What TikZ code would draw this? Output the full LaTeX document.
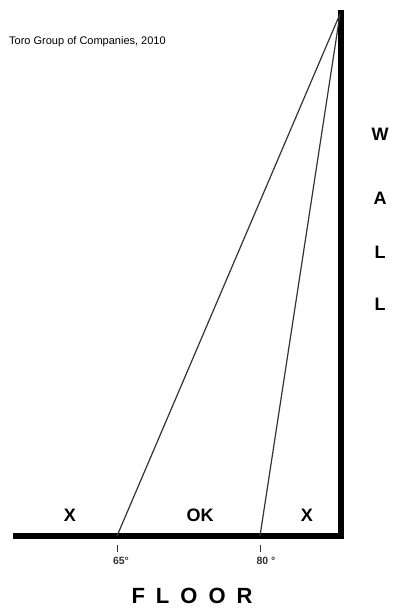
\documentclass[tikz,border=0pt]{standalone}
\usepackage{fontspec}
\setmainfont{Liberation Sans}
\begin{document}
\begin{tikzpicture}[x=1pt,y=-1pt,
  thick line/.style={line width=6pt,black},
  ray/.style={line width=1.2pt,black!80},
  tick/.style={line width=1pt,black!80},
  big/.style={font=\fontsize{18}{20}\selectfont\bfseries,inner sep=0pt},
  floorlbl/.style={font=\fontsize{22}{24}\selectfont\bfseries,inner sep=0pt},
  deg/.style={font=\fontsize{10.5}{12}\selectfont\bfseries,inner sep=0pt,text=black!80},
  credit/.style={font=\fontsize{11}{13}\selectfont,inner sep=0pt,anchor=west}]
\useasboundingbox (0,0) rectangle (393,608);
% geometry
\coordinate (apex) at (340,14);
\coordinate (walltop) at (341,10);
\coordinate (corner) at (341,536);
\coordinate (floorleft) at (13,536);
\coordinate (p65) at (117,536);
\coordinate (p80) at (260,536);
% floor and wall
\draw[thick line,line join=miter] (floorleft) -- (corner) -- (walltop);
% rays
\draw[ray] (apex) -- (p65);
\draw[ray] (apex) -- (p80);
% ticks
\coordinate (t65a) at (117,545); \coordinate (t65b) at (117,552);
\coordinate (t80a) at (260,545); \coordinate (t80b) at (260,552);
\draw[tick] (t65a) -- (t65b);
\draw[tick] (t80a) -- (t80b);
% labels
\node[credit] (credit) at (9,42) {Toro Group of Companies, 2010};
\node[big] (xl) at (70,515) {X};
\node[big] (ok) at (200,515) {OK};
\node[big] (xr) at (307,515) {X};
\node[deg] (d65) at (121,561) {65°};
\node[deg] (d80) at (266,561) {80 °};
\node[floorlbl] (floor) at (192,596) {F\hspace{11pt}L\hspace{11pt}O\hspace{11pt}O\hspace{11pt}R};
\node[big] (w1) at (380,134) {W};
\node[big] (w2) at (380,198) {A};
\node[big] (w3) at (380,252) {L};
\node[big] (w4) at (380,304) {L};
\end{tikzpicture}
\end{document}
